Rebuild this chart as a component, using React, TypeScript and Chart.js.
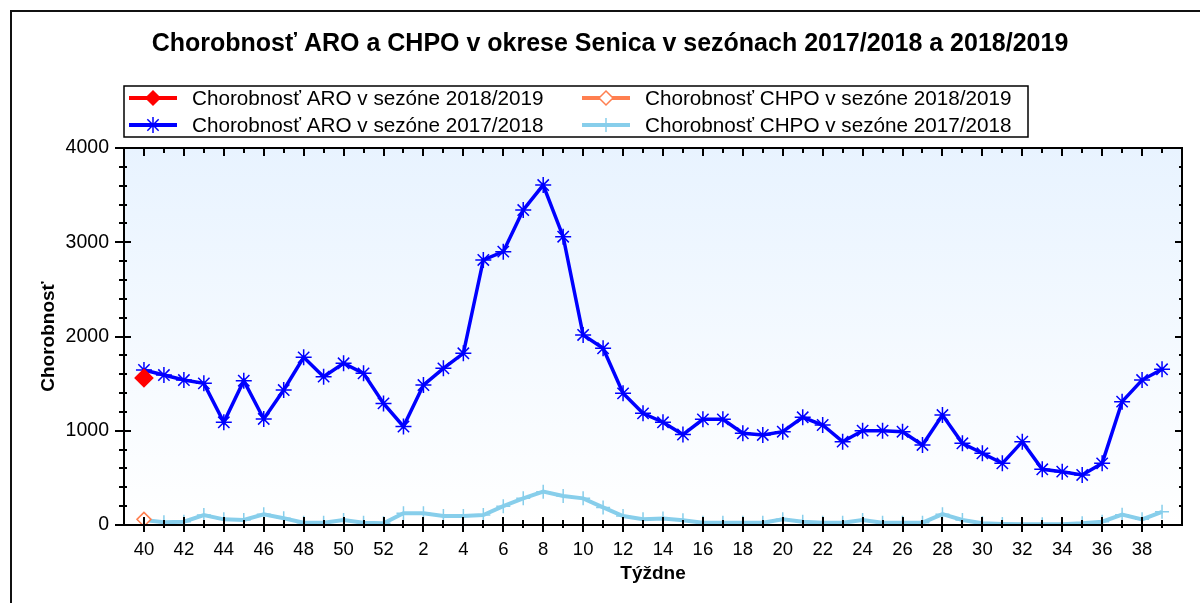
import React, { useEffect, useRef } from "react";
import { Chart, registerables } from "chart.js";

Chart.register(...registerables);

// ---- data ----
const weeks = [
  40, 41, 42, 43, 44, 45, 46, 47, 48, 49, 50, 51, 52,
  1, 2, 3, 4, 5, 6, 7, 8, 9, 10, 11, 12, 13, 14, 15, 16, 17, 18, 19, 20,
  21, 22, 23, 24, 25, 26, 27, 28, 29, 30, 31, 32, 33, 34, 35, 36, 37, 38, 39,
];

const aroSeason1819 = [1560];
const chpoSeason1819 = [60];

const aroSeason1718 = [
  1645, 1591, 1538, 1503, 1090, 1531, 1125, 1432, 1779, 1574, 1716, 1609, 1290,
  1045, 1485, 1662, 1822, 2812, 2900, 3342, 3607, 3059, 2016, 1875, 1397,
  1185, 1090, 960, 1121, 1121, 973, 955, 990, 1143, 1061, 884, 1001, 1001, 990, 849,
  1167, 867, 761, 654, 884, 591, 566, 531, 654, 1309, 1538, 1652,
];

const chpoSeason1718 = [
  53, 28, 35, 106, 60, 53, 113, 71, 25, 25, 53, 25, 18,
  124, 124, 95, 95, 106, 200, 283, 354, 308, 283, 187, 95,
  60, 70, 50, 25, 25, 25, 25, 60, 35, 25, 25, 53, 25, 25, 25,
  115, 53, 18, 11, 7, 7, 7, 18, 35, 110, 60, 140,
];

const seriesLabels = [
  "Chorobnosť ARO v sezóne 2018/2019",
  "Chorobnosť CHPO v sezóne 2018/2019",
  "Chorobnosť ARO v sezóne 2017/2018",
  "Chorobnosť CHPO v sezóne 2017/2018",
];

const yTickValues = [0, 1000, 2000, 3000, 4000];
const titleText = "Chorobnosť ARO a CHPO v okrese Senica v sezónach 2017/2018 a 2018/2019";
const xTitleText = "Týždne";
const yTitleText = "Chorobnosť";

const FONT = '"Liberation Sans", Arial, sans-serif';

const toPoints = (arr: number[]) => arr.map((v, i) => ({ x: i, y: v }));

function drawMarker(ctx: CanvasRenderingContext2D, style: string, x: number, y: number, r: number, stroke: string, fill: string) {
  ctx.save();
  ctx.strokeStyle = stroke;
  ctx.fillStyle = fill;
  ctx.lineWidth = 1.5;
  ctx.beginPath();
  if (style === "rectRot") {
    ctx.moveTo(x, y - r);
    ctx.lineTo(x + r, y);
    ctx.lineTo(x, y + r);
    ctx.lineTo(x - r, y);
    ctx.closePath();
    ctx.fill();
    ctx.stroke();
  } else if (style === "star") {
    ctx.moveTo(x - r, y);
    ctx.lineTo(x + r, y);
    ctx.moveTo(x, y - r);
    ctx.lineTo(x, y + r);
    const d = r * 0.707;
    ctx.moveTo(x - d, y - d);
    ctx.lineTo(x + d, y + d);
    ctx.moveTo(x - d, y + d);
    ctx.lineTo(x + d, y - d);
    ctx.stroke();
  } else if (style === "cross") {
    ctx.moveTo(x - r, y);
    ctx.lineTo(x + r, y);
    ctx.moveTo(x, y - r);
    ctx.lineTo(x, y + r);
    ctx.stroke();
  }
  ctx.restore();
}

const decorPlugin = {
  id: "decor",
  beforeDraw(chart: any) {
    const { ctx, chartArea: a, width, height } = chart;
    ctx.save();
    ctx.fillStyle = "#ffffff";
    ctx.fillRect(0, 0, width, height);
    const g = ctx.createLinearGradient(0, a.top, 0, a.bottom);
    g.addColorStop(0, "rgb(232,243,255)");
    g.addColorStop(1, "rgb(255,255,255)");
    ctx.fillStyle = g;
    ctx.fillRect(a.left, a.top, a.right - a.left, a.bottom - a.top);
    // outer frame
    ctx.strokeStyle = "#111";
    ctx.lineWidth = 2;
    ctx.strokeRect(11, 11, width + 50, height + 50);
    ctx.restore();
  },
  afterDraw(chart: any) {
    const { ctx, chartArea: a } = chart;
    const xs = chart.scales.x;
    const ys = chart.scales.y;
    ctx.save();
    // plot border
    ctx.strokeStyle = "#000";
    ctx.lineWidth = 2;
    ctx.strokeRect(a.left, a.top, a.right - a.left, a.bottom - a.top);
    // y ticks
    ctx.beginPath();
    for (let v = 0; v <= 4000; v += 200) {
      const y = Math.round(ys.getPixelForValue(v));
      const major = v % 1000 === 0;
      ctx.moveTo(a.left - (major ? 9 : 5), y);
      ctx.lineTo(a.left + (major ? 7 : 3), y);
      ctx.moveTo(a.right - (major ? 7 : 3), y);
      ctx.lineTo(a.right, y);
    }
    // x ticks
    for (let i = 0; i < weeks.length; i++) {
      const x = Math.round(xs.getPixelForValue(i));
      const major = i % 2 === 0;
      ctx.moveTo(x, a.bottom - (major ? 8 : 5));
      ctx.lineTo(x, a.bottom + (major ? 7 : 3));
      ctx.moveTo(x, a.top);
      ctx.lineTo(x, a.top + (major ? 8 : 5));
    }
    ctx.stroke();

    // title
    ctx.fillStyle = "#000";
    ctx.font = `bold 25px ${FONT}`;
    ctx.textAlign = "center";
    ctx.textBaseline = "alphabetic";
    ctx.fillText(titleText, 610, 51);

    // legend
    ctx.lineWidth = 1.5;
    ctx.strokeStyle = "#000";
    ctx.strokeRect(124, 86, 904, 51);
    const pos = [
      [129, 98],
      [582, 98],
      [129, 125],
      [582, 125],
    ];
    ctx.font = `20.7px ${FONT}`;
    ctx.textAlign = "left";
    ctx.textBaseline = "middle";
    chart.data.datasets.forEach((ds: any, i: number) => {
      const [lx, ly] = pos[i];
      ctx.save();
      ctx.strokeStyle = ds.borderColor;
      ctx.lineWidth = 4;
      ctx.beginPath();
      ctx.moveTo(lx, ly);
      ctx.lineTo(lx + 48, ly);
      ctx.stroke();
      ctx.restore();
      drawMarker(ctx, ds.pointStyle, lx + 24, ly, ds.pointRadius, ds.pointBorderColor, ds.pointBackgroundColor);
      ctx.fillStyle = "#000";
      ctx.fillText(ds.label, lx + 63, ly + 1);
    });
    ctx.restore();
  },
};

export default function App() {
  const ref = useRef<HTMLCanvasElement | null>(null);
  useEffect(() => {
    if (!ref.current) return;
    const chart = new Chart(ref.current, {
      type: "line",
      data: {
        datasets: [
          {
            label: seriesLabels[0],
            data: toPoints(aroSeason1819),
            borderColor: "#ff0000",
            backgroundColor: "#ff0000",
            pointStyle: "rectRot",
            pointRadius: 7,
            pointBorderColor: "#ff0000",
            pointBackgroundColor: "#ff0000",
            borderWidth: 4,
          },
          {
            label: seriesLabels[1],
            data: toPoints(chpoSeason1819),
            borderColor: "#ff7f50",
            backgroundColor: "#ffffff",
            pointStyle: "rectRot",
            pointRadius: 7,
            pointBorderWidth: 1.5,
            pointBorderColor: "#ff7f50",
            pointBackgroundColor: "#ffffff",
            borderWidth: 4,
          },
          {
            label: seriesLabels[2],
            data: toPoints(aroSeason1718),
            borderColor: "#0000ff",
            backgroundColor: "#0000ff",
            pointStyle: "star",
            pointRadius: 8,
            pointBorderWidth: 1.5,
            pointBorderColor: "#0000ff",
            pointBackgroundColor: "#0000ff",
            borderWidth: 3.5,
            tension: 0,
          },
          {
            label: seriesLabels[3],
            data: toPoints(chpoSeason1718),
            borderColor: "#87ceeb",
            backgroundColor: "#87ceeb",
            pointStyle: "cross",
            pointRadius: 7,
            pointBorderWidth: 1.5,
            pointBorderColor: "#87ceeb",
            pointBackgroundColor: "#87ceeb",
            borderWidth: 4,
            tension: 0,
          },
        ],
      },
      options: {
        animation: false,
        responsive: true,
        maintainAspectRatio: false,
        layout: { padding: { left: 0, top: 148, right: 18, bottom: 0 } },
        plugins: {
          legend: { display: false },
          title: { display: false },
          tooltip: { enabled: false },
        },
        scales: {
          x: {
            type: "linear",
            min: -1,
            max: 52,
            afterFit: (s: any) => {
              s.height = 78;
            },
            afterBuildTicks: (s: any) => {
              s.ticks = weeks.map((_, i) => i).filter((i) => i % 2 === 0).map((i) => ({ value: i }));
            },
            grid: { display: false, drawTicks: false },
            border: { display: false },
            ticks: {
              autoSkip: false,
              maxRotation: 0,
              padding: 14,
              color: "#000",
              font: { size: 18.5, family: FONT },
              callback: (v: any) => String(weeks[v] ?? ""),
            },
            title: {
              display: true,
              text: xTitleText,
              color: "#000",
              font: { size: 19, weight: "bold", family: FONT },
              padding: { top: 0, bottom: 18 },
            },
          },
          y: {
            min: 0,
            max: 4000,
            afterFit: (s: any) => {
              s.width = 124;
            },
            afterBuildTicks: (s: any) => {
              s.ticks = yTickValues.map((v) => ({ value: v }));
            },
            grid: { display: false, drawTicks: false },
            border: { display: false },
            ticks: {
              padding: 15,
              color: "#000",
              font: { size: 19.5, family: FONT },
              callback: (v: any) => String(v),
            },
            title: {
              display: true,
              text: yTitleText,
              color: "#000",
              font: { size: 19, weight: "bold", family: FONT },
              padding: { top: 37, bottom: 0 },
            },
          },
        },
      },
      plugins: [decorPlugin],
    });
    return () => chart.destroy();
  }, []);
  return (
    <div style={{ position: "fixed", left: 0, top: 0, width: 1200, height: 603 }}>
      <canvas ref={ref} />
    </div>
  );
}
